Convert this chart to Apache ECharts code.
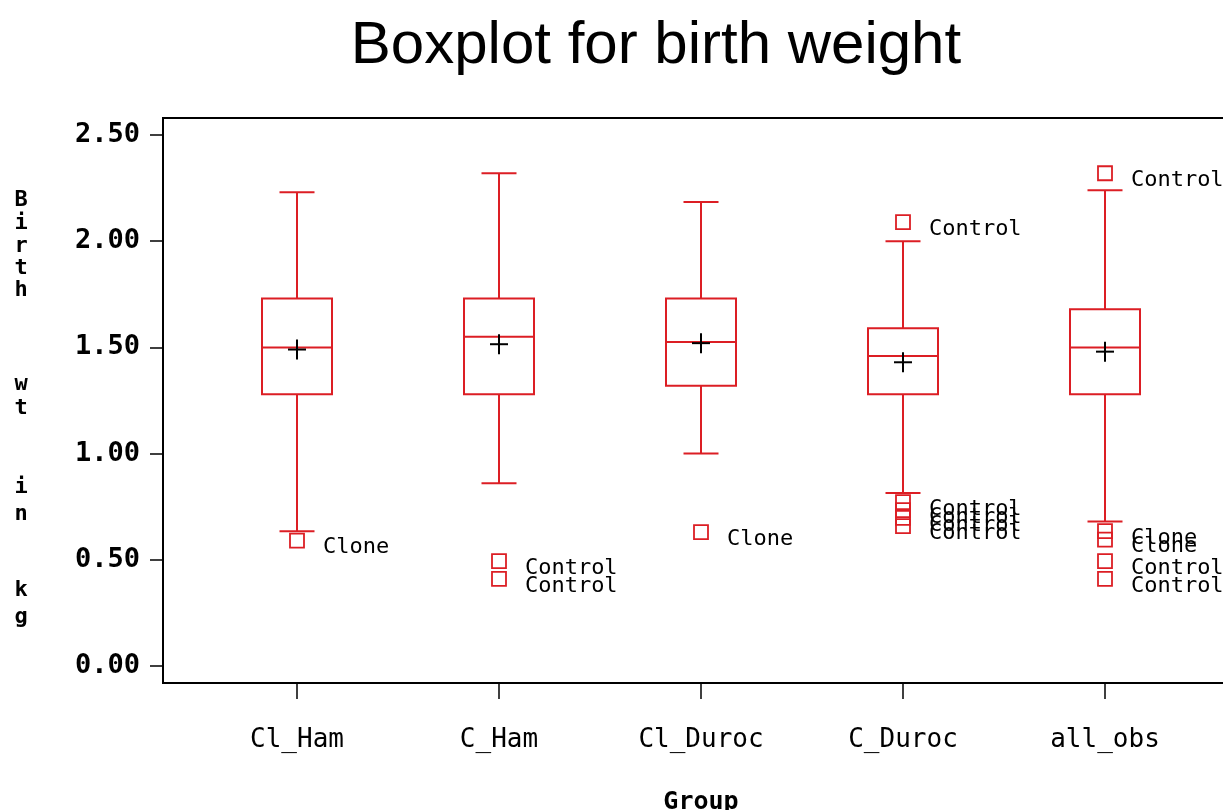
<!DOCTYPE html>
<html><head><meta charset="utf-8">
<script src="https://cdn.jsdelivr.net/npm/echarts@6/dist/echarts.min.js"></script>
<style>html,body{margin:0;padding:0;background:#fff}#c{width:1223px;height:810px}</style>
</head><body><div id="c"></div>
<script>
const categories = ['Cl_Ham', 'C_Ham', 'Cl_Duroc', 'C_Duroc', 'all_obs'];
const whiskerLow  = [0.635, 0.86, 1.00, 0.815, 0.68];
const q1          = [1.28, 1.28, 1.32, 1.28, 1.28];
const median      = [1.50, 1.55, 1.525, 1.46, 1.50];
const q3          = [1.73, 1.73, 1.73, 1.59, 1.68];
const whiskerHigh = [2.23, 2.32, 2.185, 2.00, 2.24];
const meanValue   = [1.49, 1.515, 1.52, 1.43, 1.48];

const outlierGroup = ['Cl_Ham', 'C_Ham', 'C_Ham', 'Cl_Duroc', 'C_Duroc', 'C_Duroc', 'C_Duroc', 'C_Duroc', 'C_Duroc', 'all_obs', 'all_obs', 'all_obs', 'all_obs', 'all_obs'];
const outlierValue = [0.59, 0.494, 0.41, 0.63, 2.09, 0.772, 0.734, 0.697, 0.659, 2.32, 0.635, 0.595, 0.494, 0.41];
const outlierLabel = ['Clone', 'Control', 'Control', 'Clone', 'Control', 'Control', 'Control', 'Control', 'Control', 'Control', 'Clone', 'Clone', 'Control', 'Control'];

const yTicks = ['0.00', '0.50', '1.00', '1.50', '2.00', '2.50'];
const yTitleLetters = [['B',200],['i',223],['r',246],['t',268],['h',290],['w',384],['t',408],['i',487],['n',514],['k',590],['g',617]];

const RED = '#dc1e24';
const chart = echarts.init(document.getElementById('c'));

const boxData = categories.map((c, i) => [i, whiskerLow[i], q1[i], median[i], q3[i], whiskerHigh[i], meanValue[i]]);
const outData = outlierGroup.map((g, i) => ({ value: [categories.indexOf(g), outlierValue[i]], name: outlierLabel[i] }));

function renderBox(params, api) {
  const x = api.value(0);
  const bw = api.size([1, 0])[0] * 70 / 202;
  const cw = bw / 2;
  const pLo = api.coord([x, api.value(1)]);
  const pQ1 = api.coord([x, api.value(2)]);
  const pMed = api.coord([x, api.value(3)]);
  const pQ3 = api.coord([x, api.value(4)]);
  const pHi = api.coord([x, api.value(5)]);
  const pMean = api.coord([x, api.value(6)]);
  const cx = pMed[0];
  const ls = { stroke: RED, lineWidth: 2, fill: null };
  const line = (x1, y1, x2, y2, st) => ({ type: 'line', shape: { x1, y1, x2, y2 }, style: st || ls });
  const blk = { stroke: '#000', lineWidth: 2 };
  return {
    type: 'group',
    children: [
      line(cx, pHi[1], cx, pQ3[1]),
      line(cx, pQ1[1], cx, pLo[1]),
      line(cx - cw / 2, pHi[1], cx + cw / 2, pHi[1]),
      line(cx - cw / 2, pLo[1], cx + cw / 2, pLo[1]),
      { type: 'rect', shape: { x: cx - bw / 2, y: pQ3[1], width: bw, height: pQ1[1] - pQ3[1] }, style: { stroke: RED, lineWidth: 2, fill: null } },
      line(cx - bw / 2, pMed[1], cx + bw / 2, pMed[1]),
      line(pMean[0] - 9, pMean[1], pMean[0] + 9, pMean[1], blk),
      line(pMean[0], pMean[1] - 10, pMean[0], pMean[1] + 10, blk)
    ]
  };
}

const graphics = [
  { type: 'text', x: 656, y: 46, style: { text: 'Boxplot for birth weight', font: 'normal 60px "Liberation Sans"', fill: '#000', textAlign: 'center', textVerticalAlign: 'middle' } }
].concat(yTitleLetters.map(([ch, y]) => ({
  type: 'text', x: 21, y: y, style: { text: ch, font: 'bold 22px "DejaVu Sans Mono"', fill: '#000', textAlign: 'center', textVerticalAlign: 'middle' }
})));

chart.setOption({
  animation: false,
  backgroundColor: '#fff',
  graphic: graphics,
  grid: [
    { left: 196, width: 1010, top: 135, bottom: 144, outerBoundsMode: 'none', containLabel: false },
    { left: 163, top: 118, right: -20, bottom: 127, show: true, borderColor: '#000', borderWidth: 2, backgroundColor: 'transparent', outerBoundsMode: 'none', containLabel: false },
    { left: 196, width: 1010, top: 118, bottom: 127, outerBoundsMode: 'none', containLabel: false }
  ],
  xAxis: [
    { type: 'category', gridIndex: 0, data: categories, show: false },
    { type: 'value', gridIndex: 1, show: false, min: 0, max: 1 },
    {
      type: 'category', gridIndex: 2, data: categories,
      name: 'Group', nameLocation: 'middle', nameGap: 107,
      nameTextStyle: { fontFamily: 'DejaVu Sans Mono', fontWeight: 'bold', fontSize: 25, color: '#000' },
      axisLine: { show: false },
      axisTick: { show: true, alignWithLabel: true, length: 16, lineStyle: { color: '#000', width: 1.5 } },
      axisLabel: { fontFamily: 'DejaVu Sans Mono', fontSize: 26, color: '#000', margin: 44 }
    }
  ],
  yAxis: [
    {
      type: 'value', gridIndex: 0, min: 0, max: 2.5, interval: 0.5, offset: 33,
      axisLine: { show: false },
      splitLine: { show: false },
      axisTick: { show: true, length: 13, lineStyle: { color: '#000', width: 1.5 } },
      axisLabel: { fontFamily: 'DejaVu Sans Mono', fontWeight: 'bold', fontSize: 27, color: '#000', margin: 23,
        formatter: v => yTicks[Math.round(v / 0.5)] }
    },
    { type: 'value', gridIndex: 1, show: false, min: 0, max: 1 },
    { type: 'value', gridIndex: 2, show: false, min: 0, max: 1 }
  ],
  series: [
    { type: 'custom', xAxisIndex: 0, yAxisIndex: 0, data: boxData, renderItem: renderBox, z: 3 },
    {
      type: 'scatter', xAxisIndex: 0, yAxisIndex: 0, data: outData, z: 4,
      symbol: 'rect', symbolSize: 14,
      itemStyle: { color: 'rgba(0,0,0,0)', borderColor: RED, borderWidth: 1.8, opacity: 1 },
      label: { show: true, position: 'right', distance: 18, offset: [0, 7], formatter: p => p.name,
        fontFamily: 'DejaVu Sans Mono', fontSize: 22, color: '#000', opacity: 1 },
      emphasis: { disabled: true }
    }
  ]
});
</script></body></html>
